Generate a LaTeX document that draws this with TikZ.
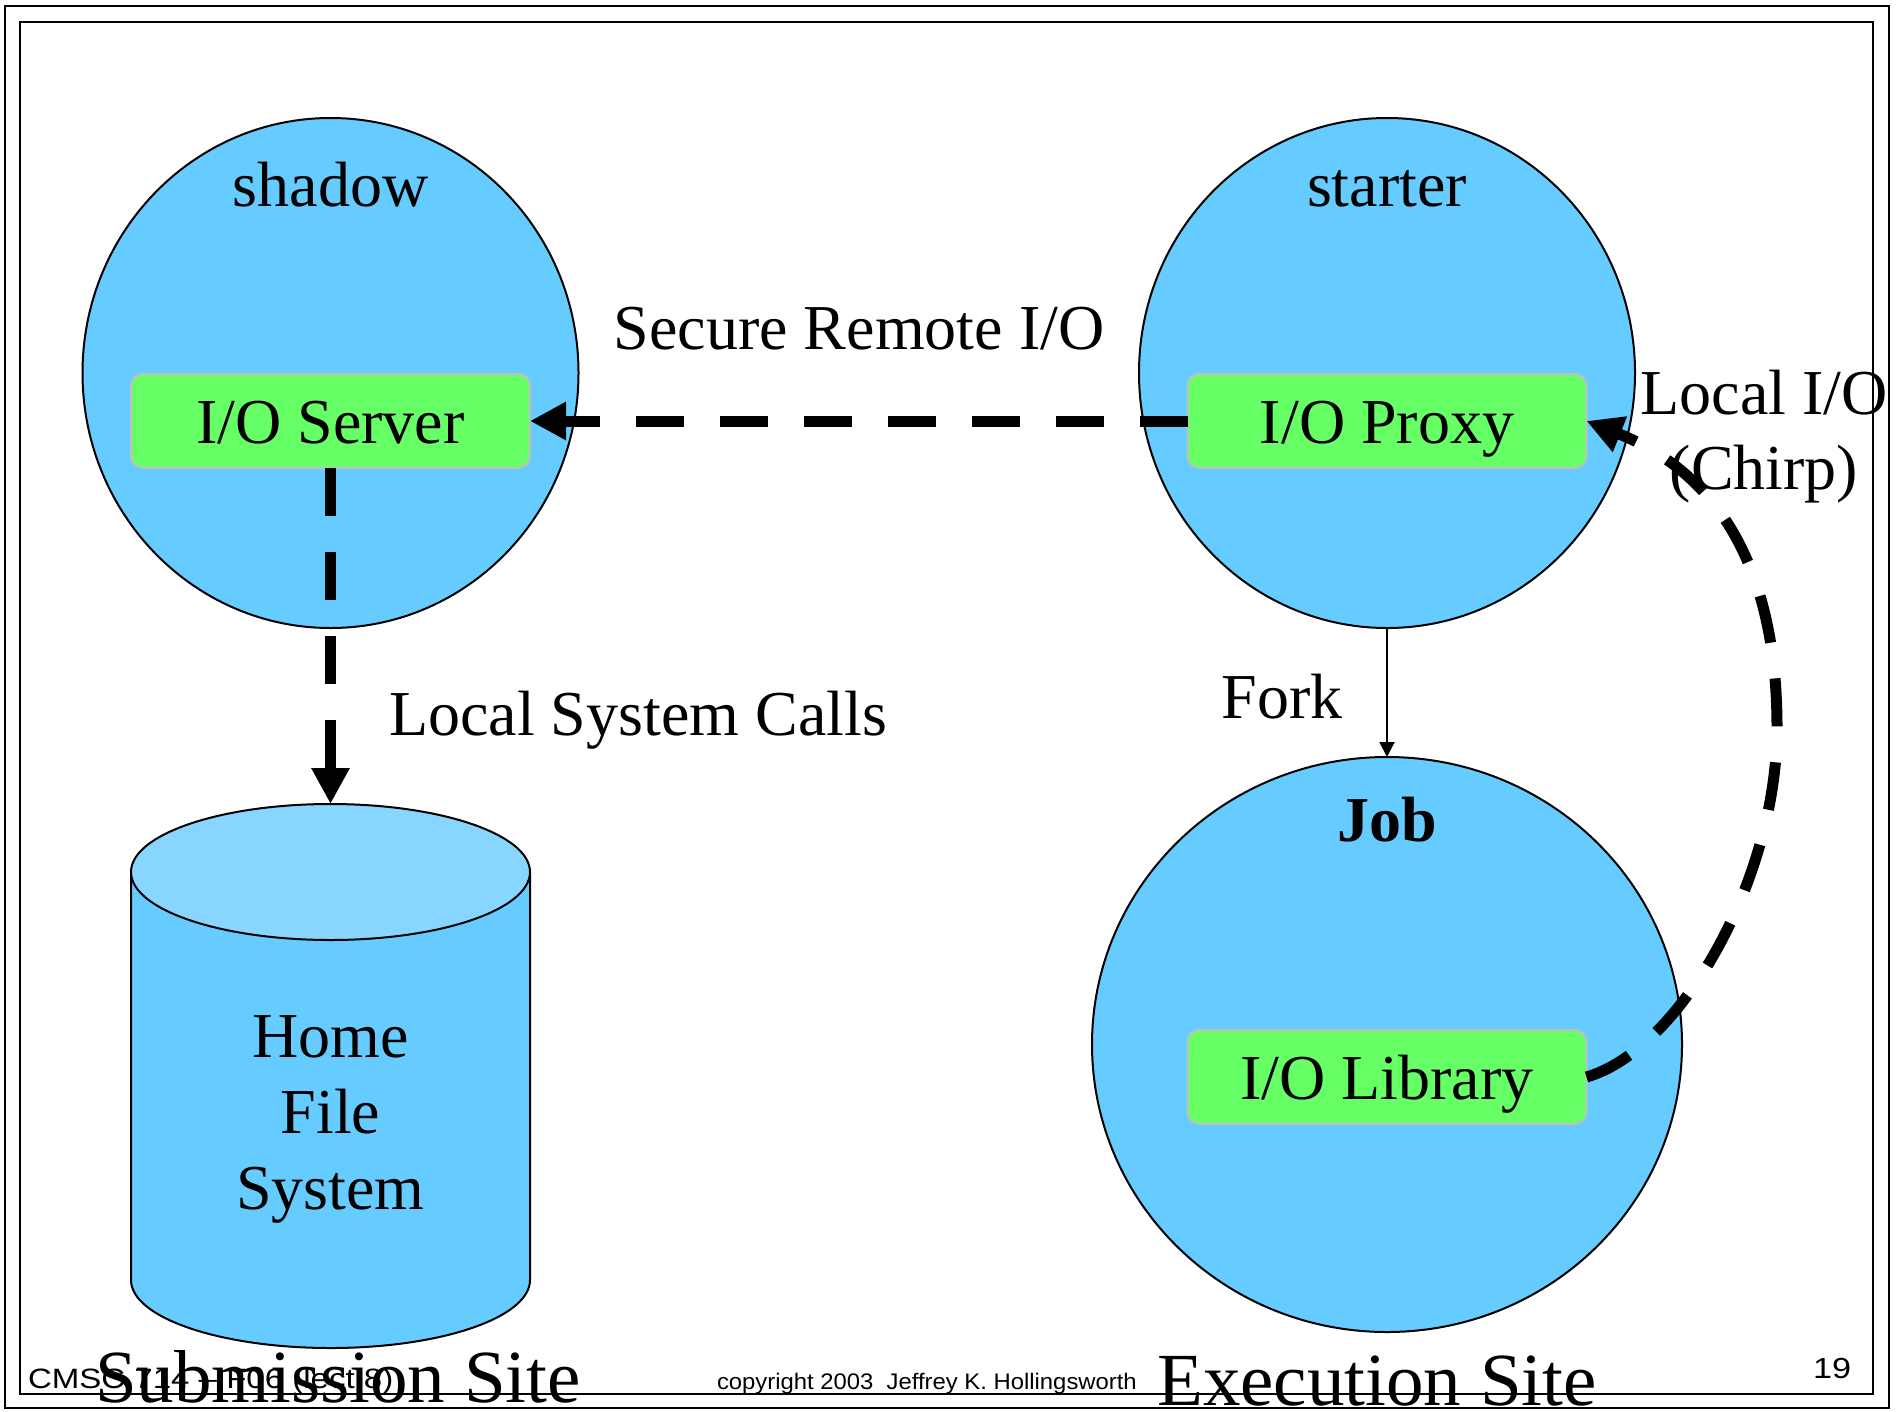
\documentclass[tikz,border=0pt]{standalone}
\usepackage{fontspec}
\setmainfont{Liberation Serif}
\setsansfont{Liberation Sans}
\usetikzlibrary{arrows.meta,shapes.geometric}

\definecolor{procblue}{HTML}{66CCFF}
\definecolor{disktop}{HTML}{88D6FF}
\definecolor{modgreen}{HTML}{66FF66}
\definecolor{modedge}{HTML}{BFBFBF}

\newcommand\lblfont{\fontsize{64}{76}\selectfont}
\newcommand\sitefont{\fontsize{75}{80}\selectfont}
\newcommand\footfont{\sffamily\fontsize{28}{32}\selectfont}

\tikzset{
  proc/.style={ellipse, draw=black, line width=2pt, fill=procblue,
    inner sep=0pt, outer sep=0pt},
  module/.style={rectangle, rounded corners=12pt, draw=modedge, line width=2pt,
    fill=modgreen, minimum width=399pt, minimum height=94pt, inner sep=0pt,
    outer sep=0pt, text height=44pt, text depth=0pt, font=\lblfont},
  lbl/.style={anchor=base, inner sep=0pt, outer sep=0pt, font=\lblfont},
  sitelbl/.style={anchor=base, inner sep=0pt, outer sep=0pt, font=\sitefont},
  footlbl/.style={anchor=base west, inner sep=0pt, outer sep=0pt, font=\footfont},
  frameline/.style={draw=black, line width=2.5pt},
  bigflow/.style={line width=11pt, dash pattern=on 48pt off 36pt,
    -{Triangle[length=36pt,width=36pt]}},
  forkflow/.style={line width=2pt, -{Triangle[length=15pt,width=15pt]}},
}

\begin{document}
\begin{tikzpicture}[x=1pt,y=-1pt]
\useasboundingbox (0,0) rectangle (1902,1411);
\fill[white] (0,0) rectangle (1902,1411);

% slide frame
\draw[frameline] (5,6) rectangle (1889,1408);
\draw[frameline] (20,22) rectangle (1873,1394);

% processes
\node[proc, minimum width=496pt, minimum height=510pt] (shadow) at (330.5,373) {};
\node[proc, minimum width=496pt, minimum height=510pt] (starter) at (1387,373) {};
\node[proc, minimum width=590pt, minimum height=575pt] (job) at (1387,1044.5) {};

\node[lbl] (shadowlbl) at (330.5,206) {shadow};
\node[lbl] (starterlbl) at (1387,206) {starter};
\node[lbl, font=\lblfont\bfseries] (joblbl) at (1387,841) {Job};

% I/O modules
\node[module] (server) at (330.5,421) {I/O Server};
\node[module] (proxy) at (1387,421) {I/O Proxy};
\node[module] (lib) at (1387,1077) {I/O Library};

% home file system cylinder
\fill[procblue] (131,872) -- (131,1280) arc[start angle=180, end angle=0,
  x radius=199.5, y radius=68] -- (530,872) -- cycle;
\draw[line width=2pt] (131,872) -- (131,1280) arc[start angle=180, end angle=0,
  x radius=199.5, y radius=68] -- (530,872);
\draw[line width=2pt, fill=disktop] (330.5,872) ellipse[x radius=199.5, y radius=68];
\coordinate (disktopc) at (330.5,804);
\node[lbl, align=center, anchor=base] (hfs) at (330.5,1209)
  {Home\\File\\System};

% data flows
\draw[bigflow] (proxy.west) -- (server.east);
\draw[bigflow] (server.south) -- (disktopc);
\draw[forkflow] (starter.south) -- (job.north);
\draw[bigflow] (lib.east) .. controls (1680,1050) and (1777,880) .. (1777,728)
  .. controls (1777,640) and (1760,490) .. (proxy.east);

% flow labels
\node[lbl] (srio) at (859,349) {Secure Remote I/O};
\node[lbl] (lsc) at (638,735) {Local System Calls};
\node[lbl] (fork) at (1282,718) {Fork};
\node[lbl] (lio) at (1764,414) {Local I/O};
\node[lbl] (chirp) at (1764,489) {(Chirp)};

% footer
\node[footlbl, xscale=1.18] (course) at (28,1388) {CMSC 714 – F06 (lect 8)};
\node[footlbl, font=\sffamily\fontsize{22.5}{26}\selectfont, xscale=1.06]
  (copy) at (717,1389) {copyright 2003\ \ Jeffrey K. Hollingsworth};
\node[footlbl, font=\sffamily\fontsize{29}{32}\selectfont, xscale=1.18]
  (pageno) at (1813,1378) {19};

% site labels
\node[sitelbl] (subsite) at (338,1402) {Submission Site};
\node[sitelbl] (exsite) at (1377,1405) {Execution Site};
\end{tikzpicture}
\end{document}
